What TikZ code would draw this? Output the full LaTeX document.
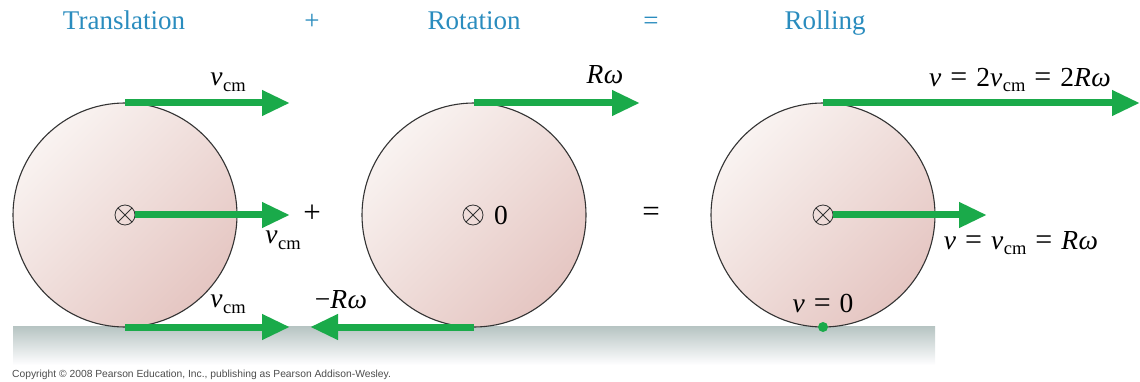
\documentclass[tikz,border=0pt]{standalone}
\usepackage{fontspec}
\setmainfont{Liberation Serif}
\newfontfamily\arialf{Liberation Sans}
\usetikzlibrary{arrows.meta}
\definecolor{vgreen}{RGB}{26,170,74}
\definecolor{ttlblue}{RGB}{42,140,190}
\definecolor{pinkL}{RGB}{249,243,241}
\definecolor{pinkD}{RGB}{229,198,194}
\definecolor{grndT}{RGB}{182,196,194}
\definecolor{grndB}{RGB}{253,253,254}
\newcommand{\vsym}{\textit{v}}
\newcommand{\cmsub}{\kern0.5pt\raisebox{-0.45ex}{\fontsize{18.5}{18.5}\selectfont cm}}
\newcommand{\vcm}{\vsym\cmsub}
\newcommand{\Rw}{\textit{R\kern0.5ptω}}
\newcommand{\eqs}{\hspace{9pt}{\fontsize{30}{30}\selectfont =}\hspace{9pt}}
\tikzset{
  wheel/.style={circle, draw=black!80, line width=1.1pt, minimum size=224pt,
    inner sep=0pt, outer sep=0pt, top color=pinkL, bottom color=pinkD, shading angle=45},
  cmark/.style={circle, draw=black!80, line width=0.8pt, minimum size=20pt,
    inner sep=0pt, outer sep=0pt,
    path picture={\draw[black!80, line width=0.8pt]
      (path picture bounding box.north west) -- (path picture bounding box.south east)
      (path picture bounding box.north east) -- (path picture bounding box.south west);}},
  vel/.style={draw=vgreen, line width=7pt, -{Triangle[length=28pt, width=24pt]}},
  lbl/.style={font=\fontsize{27.5}{32}\selectfont, inner sep=0pt},
  op/.style={font=\fontsize{31}{34}\selectfont, inner sep=0pt},
  ttl/.style={font=\fontsize{27}{32}\selectfont, text=ttlblue, inner sep=0pt, anchor=base},
  dot/.style={circle, fill=vgreen, minimum size=10pt, inner sep=0pt}
}
\begin{document}
\begin{tikzpicture}[x=1pt, y=-1pt]
\useasboundingbox (0,0) rectangle (1140,382);
% titles
\node[ttl] (tt1) at (124,30) {Translation};
\node[ttl] (tt2) at (312,30) {+};
\node[ttl] (tt3) at (474,30) {Rotation};
\node[ttl] (tt4) at (651,30) {=};
\node[ttl] (tt5) at (825,30) {Rolling};
% ground
\shade[top color=grndT, bottom color=grndB] (13,326) rectangle (935,364);
% wheels
\node[wheel] (w1) at (125,215) {};
\node[wheel] (w2) at (474,215) {};
\node[wheel] (w3) at (823,215) {};
\node[cmark] (c1) at (125,215) {};
\node[cmark] (c2) at (473,215) {};
\node[cmark] (c3) at (823,215) {};
% arrow end points
\coordinate (e1t) at (290,103);
\coordinate (e1m) at (290,215);
\coordinate (e1b) at (290,327);
\coordinate (e2t) at (640,103);
\coordinate (e2b) at (310,327);
\coordinate (e3t) at (1140,103);
\coordinate (e3m) at (987,215);
% arrows
\draw[vel] (w1.north) -- (e1t);
\draw[vel] (c1.east) -- (e1m);
\draw[vel] (w1.south) -- (e1b);
\draw[vel] (w2.north) -- (e2t);
\draw[vel] (w2.south) -- (e2b);
\draw[vel] (w3.north) -- (e3t);
\draw[vel] (c3.east) -- (e3m);
\node[dot] (p0) at (w3.south) {};
% labels
\node[lbl] (l1t) at (228,82) {\vcm};
\node[lbl] (l1m) at (283,240) {\vcm};
\node[lbl] (l1b) at (228,304) {\vcm};
\node[op] (plus) at (312,214) {+};
\node[lbl] (l2t) at (605,75) {\Rw};
\node[lbl] (l2b) at (341,300) {−\Rw};
\node[lbl, anchor=west] (zero) at (494,215) {0};
\node[op] (eq) at (651,214) {=};
\node[lbl] (l3t) at (1020,80) {\vsym\eqs 2\vcm\eqs 2\Rw};
\node[lbl] (l3m) at (1021,243) {\vsym\eqs\vcm\eqs\Rw};
\node[lbl] (l3b) at (823,303) {\vsym\eqs 0};
% copyright
\node[font=\arialf\fontsize{10.3}{12}\selectfont, text=black!70, anchor=west, inner sep=0pt] (copy) at (12,375)
  {Copyright © 2008 Pearson Education, Inc., publishing as Pearson Addison-Wesley.};
\end{tikzpicture}
\end{document}
